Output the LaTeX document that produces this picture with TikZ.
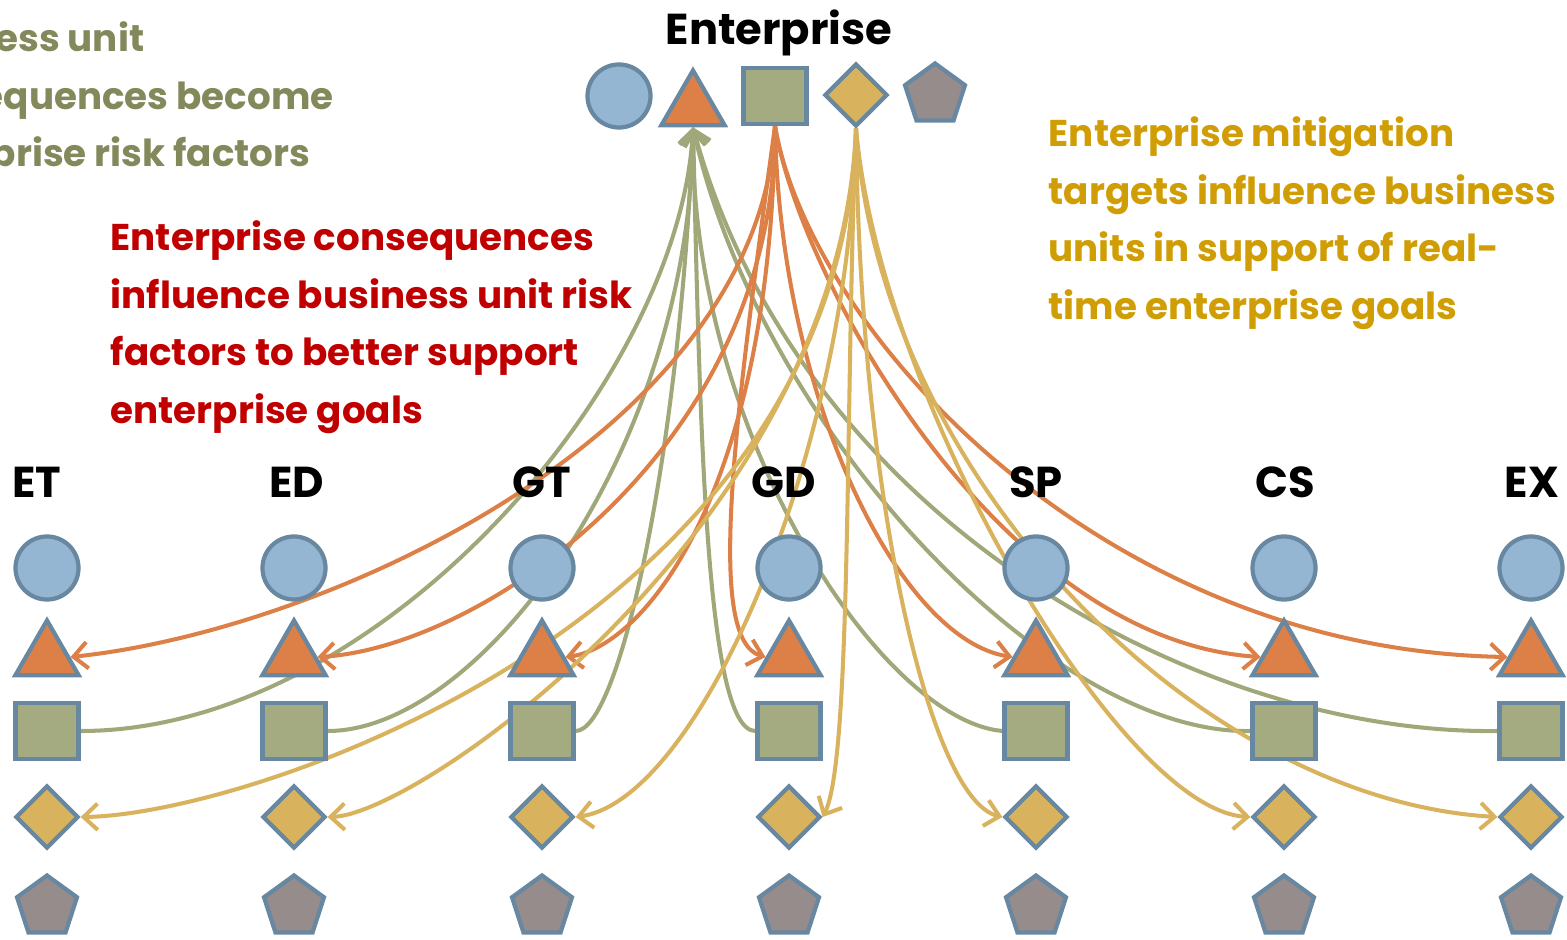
\documentclass[tikz,border=0pt]{standalone}
\usepackage{fontspec}
\setmainfont{Poppins}
\usetikzlibrary{arrows.meta,shapes.geometric,backgrounds}
\definecolor{blueshape}{RGB}{148,182,210}
\definecolor{shapeedge}{RGB}{104,135,160}
\definecolor{orangeshape}{RGB}{221,128,71}
\definecolor{oliveshape}{RGB}{165,171,129}
\definecolor{goldshape}{RGB}{216,178,92}
\definecolor{greyshape}{RGB}{150,140,140}
\definecolor{olivetext}{RGB}{132,137,92}
\definecolor{redtext}{RGB}{192,0,0}
\definecolor{goldtext}{RGB}{208,158,4}
\definecolor{oliveline}{RGB}{160,168,122}
\definecolor{orangeline}{RGB}{221,128,71}
\definecolor{goldline}{RGB}{216,178,92}
\tikzset{
  shp/.style={draw=shapeedge,line width=1.2pt,inner sep=0pt},
  circ/.style={shp,circle,fill=blueshape,minimum size=0.63cm},
  tri/.style={shp,regular polygon,regular polygon sides=3,fill=orangeshape,minimum size=0.73cm},
  sq/.style={shp,rectangle,fill=oliveshape,minimum width=0.63cm,minimum height=0.56cm},
  dia/.style={shp,diamond,fill=goldshape,minimum size=0.63cm},
  pent/.style={shp,regular polygon,regular polygon sides=5,fill=greyshape,minimum size=0.63cm},
  unit/.style={font=\bfseries\fontsize{12.3}{14}\selectfont,inner sep=0pt},
  note/.style={font=\bfseries\fontsize{10.6}{16.4}\selectfont,align=left,inner sep=0pt,anchor=north west},
  link/.style={line width=1.15pt,-{Straight Barb[length=4pt,width=7.5pt]}}
}

\begin{document}
\begin{tikzpicture}[x=0.01cm,y=-0.01cm]
    \useasboundingbox (0,0) rectangle (1567,940);
    \clip (0,0) rectangle (1567,940);

    % enterprise
    \node[unit,anchor=base] (enttitle) at (779,45) {Enterprise};
    \node[circ] (entc) at (619,96) {};
    \node[tri] (entt) at (693,107) {};
    \node[sq] (ents) at (775,96) {};
    \node[dia] (entd) at (856,95) {};
    \node[pent] (entp) at (935,95) {};

    % business units
    \foreach \n/\x in {1/47,2/294,3/542,4/789,5/1036,6/1284,7/1531}{
        \node[circ] (c\n) at (\x,568) {};
        \node[tri] (t\n) at (\x,657) {};
        \node[sq] (s\n) at (\x,731) {};
        \node[dia] (d\n) at (\x,817) {};
        \node[pent] (p\n) at (\x,907) {};
    }
    \foreach \n/\x/\lab in {1/37/ET,2/297/ED,3/542/GT,4/784/GD,5/1036/SP,6/1285/CS,7/1532/EX}
        \node[unit,anchor=base] (l\n) at (\x,498) {\lab};

    \node[note,text=olivetext] (upnote) at (-112,21) {Business unit\\consequences become\\enterprise risk factors};
    \node[note,text=redtext] (downnote) at (110,220) {Enterprise consequences\\influence business unit risk\\factors to better support\\enterprise goals};
    \node[note,text=goldtext] (mitnote) at (1048,116) {Enterprise mitigation\\targets influence business\\units in support of real-\\time enterprise goals};

    \begin{pgfonlayer}{background}
    \draw[link,oliveline] (s1.east) .. controls (380,731) and (680,380) .. (entt.south);
    \draw[link,oliveline] (s2.east) .. controls (480,731) and (690,450) .. (entt.south);
    \draw[link,oliveline] (s3.east) .. controls (620,731) and (680,450) .. (entt.south);
    \draw[link,oliveline] (s4.west) .. controls (705,731) and (700,420) .. (entt.south);
    \draw[link,oliveline] (s5.west) .. controls (880,720) and (690,430) .. (entt.south);
    \draw[link,oliveline] (s6.west) .. controls (1050,735) and (760,430) .. (entt.south);
    \draw[link,oliveline] (s7.west) .. controls (1200,735) and (800,520) .. (entt.south);

    \draw[link,orangeline] (ents.south) .. controls (760,430) and (330,630) .. (t1.east);
    \draw[link,orangeline] (ents.south) .. controls (775,450) and (480,648) .. (t2.east);
    \draw[link,orangeline] (ents.south) .. controls (770,500) and (640,648) .. (t3.east);
    \draw[link,orangeline] (ents.south) .. controls (735,420) and (705,640) .. (t4.west);
    \draw[link,orangeline] (ents.south) .. controls (780,400) and (900,640) .. (t5.west);
    \draw[link,orangeline] (ents.south) .. controls (800,280) and (1000,640) .. (t6.west);
    \draw[link,orangeline] (ents.south) .. controls (810,330) and (1100,650) .. (t7.west);

    \draw[link,goldline] (entd.south) .. controls (840,620) and (250,815) .. (d1.east);
    \draw[link,goldline] (entd.south) .. controls (840,520) and (420,815) .. (d2.east);
    \draw[link,goldline] (entd.south) .. controls (850,450) and (700,800) .. (d3.east);
    \draw[link,goldline] (entd.south) .. controls (845,400) and (852,760) .. (d4.east);
    \draw[link,goldline] (entd.south) .. controls (860,500) and (930,800) .. (d5.west);
    \draw[link,goldline] (entd.south) .. controls (880,400) and (1120,810) .. (d6.west);
    \draw[link,goldline] (entd.south) .. controls (880,480) and (1200,800) .. (d7.west);
    \end{pgfonlayer}
\end{tikzpicture}
\end{document}
